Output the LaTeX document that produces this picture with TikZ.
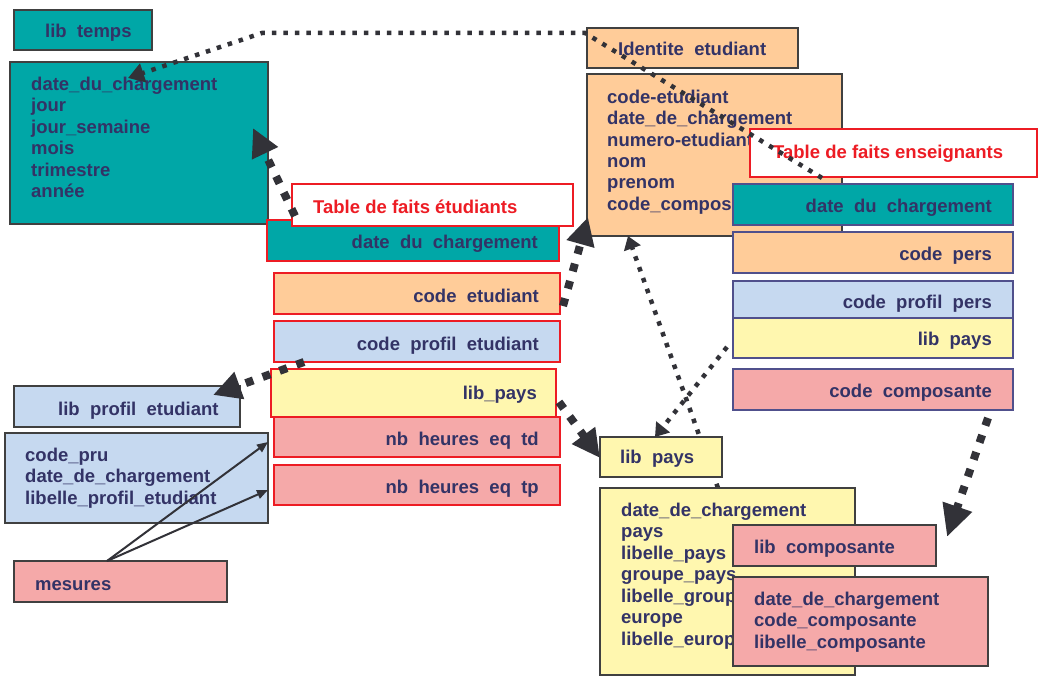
\documentclass[tikz,border=0pt]{standalone}
\usepackage{fontspec}
\setmainfont{Liberation Sans}
\usetikzlibrary{arrows.meta,fit}
\definecolor{tealc}{RGB}{0,167,167}
\definecolor{peach}{RGB}{255,204,153}
\definecolor{lblue}{RGB}{198,217,240}
\definecolor{lyel}{RGB}{255,247,175}
\definecolor{lpink}{RGB}{245,169,169}
\definecolor{txtc}{RGB}{51,51,102}
\definecolor{redc}{RGB}{237,28,36}
\definecolor{dgray}{RGB}{64,64,64}
\definecolor{navyb}{RGB}{80,80,140}
\definecolor{arrc}{RGB}{50,50,56}
\tikzset{
  box/.style={draw=dgray, line width=2pt, inner sep=0pt, outer sep=0pt},
  fbox/.style={draw=redc, line width=2pt, inner sep=0pt, outer sep=0pt},
  ebox/.style={draw=navyb, line width=2pt, inner sep=0pt, outer sep=0pt},
  txt/.style={inner sep=0pt, text=txtc, font=\fontsize{18.5}{21.5}\selectfont\bfseries, align=left},
  rtxt/.style={txt, text=redc},
  dotln/.style={draw=arrc, line width=4.5pt, dash pattern=on 4.5pt off 7pt},
  bigdash/.style={draw=arrc, line width=8pt, dash pattern=on 8pt off 10pt},
  smallhead/.style={-{Triangle[length=13pt,width=17pt]}},
  bighead/.style={-{Triangle[length=28pt,width=27pt]}},
  thinarr/.style={draw=arrc, line width=2pt, -{Triangle[length=11pt,width=9pt]}},
}
\begin{document}
\begin{tikzpicture}[x=1pt,y=-1pt]
\fill[white] (0,0) rectangle (1039,682);
\useasboundingbox (0,0) rectangle (1039,682);

% ---- dimension temps
\node[box, fill=tealc, fit={(14,10)(152,50)}] (libtemps) {};
\node[txt, anchor=base west] (tlibtemps) at (45,38) {lib\ \ temps};
\node[box, fill=tealc, fit={(10,62)(268,224)}] (temps) {};
\node[txt, anchor=base west] (ttemps) at (31,197.5) {date\_du\_chargement\\jour\\jour\_semaine\\mois\\trimestre\\année};

% ---- dimension profil
\node[box, fill=lblue, fit={(14,386)(240,427)}] (libprof) {};
\node[txt, anchor=base west] (tlibprof) at (58,415) {lib\ \ profil\ \ etudiant};
\node[box, fill=lblue, fit={(5,433)(268,523)}] (proftab) {};
\node[txt, anchor=base west] (tproftab) at (25,504) {code\_pru\\date\_de\_chargement\\libelle\_profil\_etudiant};
\node[box, fill=lpink, fit={(14,561)(227,602)}] (mesures) {};
\node[txt, anchor=base west] (tmesures) at (35,590) {mesures};

% ---- table de faits etudiants
\node[fbox, fill=tealc, fit={(267,220)(559,261)}] (fdate) {};
\node[txt, anchor=base east] (tfdate) at (538,248) {date\ \ du\ \ chargement};
\node[fbox, fill=white, fit={(292,184)(573,226)}] (flabel) {};
\node[rtxt, anchor=base west] (tflabel) at (313,213) {Table de faits étudiants};
\node[fbox, fill=peach, fit={(274,273)(560,314)}] (fcode) {};
\node[txt, anchor=base east] (tfcode) at (539,302) {code\ \ etudiant};
\node[fbox, fill=lblue, fit={(274,321)(560,362)}] (fprof) {};
\node[txt, anchor=base east] (tfprof) at (539,350) {code\ \ profil\ \ etudiant};
\node[fbox, fill=lyel, fit={(271,369)(556,417)}] (fpays) {};
\node[txt, anchor=base east] (tfpays) at (537,399) {lib\_pays};
\node[fbox, fill=lpink, fit={(274,417)(560,457)}] (ftd) {};
\node[txt, anchor=base east] (tftd) at (539,445) {nb\ \ heures\ \ eq\ \ td};
\node[fbox, fill=lpink, fit={(274,465)(560,505)}] (ftp) {};
\node[txt, anchor=base east] (tftp) at (539,493) {nb\ \ heures\ \ eq\ \ tp};

% ---- dimension identite
\node[box, fill=peach, fit={(587,28)(798,68)}] (idhead) {};
\node[txt, anchor=base west] (tidhead) at (618,56) {Identite\ \ etudiant};
\node[box, fill=peach, fit={(587,74)(842,236)}] (idtab) {};
\node[txt, anchor=base west] (tidtab) at (607,210.5) {code-etudiant\\date\_de\_chargement\\numero-etudiant\\nom\\prenom\\code\_composante};

% ---- table de faits enseignants
\node[fbox, fill=white, fit={(750,129)(1037,177)}] (elabel) {};
\node[rtxt, anchor=base west] (telabel) at (773,158) {Table de faits enseignants};
\node[ebox, fill=tealc, fit={(733,184)(1013,225)}] (edate) {};
\node[txt, anchor=base east] (tedate) at (992,212) {date\ \ du\ \ chargement};
\node[ebox, fill=peach, fit={(733,232)(1013,273)}] (epers) {};
\node[txt, anchor=base east] (tepers) at (992,260) {code\ \ pers};
\node[ebox, fill=lblue, fit={(733,281)(1013,318)}] (eprof) {};
\node[txt, anchor=base east] (teprof) at (992,308) {code\ \ profil\ \ pers};
\node[ebox, fill=lyel, fit={(733,318)(1013,358)}] (epays) {};
\node[txt, anchor=base east] (tepays) at (992,345) {lib\ \ pays};
\node[ebox, fill=lpink, fit={(733,369)(1013,410)}] (ecomp) {};
\node[txt, anchor=base east] (tecomp) at (992,397) {code\ \ composante};

% ---- connector passing behind lib pays
\coordinate (d0) at (718,488);
\coordinate (d1) at (628,236);
\draw[dotln, smallhead] (d0) -- (d1);

% ---- dimension pays
\node[box, fill=lyel, fit={(600,437)(722,477)}] (gpays) {};
\node[txt, anchor=base west] (tgpays) at (620,463) {lib\ \ pays};
\node[box, fill=lyel, fit={(600,488)(855,675)}] (paystab) {};
\node[txt, anchor=base west] (tpaystab) at (621,645) {date\_de\_chargement\\pays\\libelle\_pays\\groupe\_pays\\libelle\_groupe\\europe\\libelle\_europe};

% ---- dimension composante
\node[box, fill=lpink, fit={(733,525)(936,566)}] (libcomp) {};
\node[txt, anchor=base west] (tlibcomp) at (754,553) {lib\ \ composante};
\node[box, fill=lpink, fit={(733,577)(988,666)}] (comptab) {};
\node[txt, anchor=base west] (tcomptab) at (754,648) {date\_de\_chargement\\code\_composante\\libelle\_composante};

% ---- connectors
\coordinate (a0) at (822,178);
\coordinate (a1) at (585,33);
\coordinate (a2) at (262,33);
\coordinate (a3) at (128,78);
\draw[dotln, -{Triangle[length=16pt,width=19pt]}] (a0) -- (a1) -- (a2) -- (a3);

\coordinate (b0) at (295,216);
\coordinate (b1) at (253,128);
\draw[bigdash, bighead] (b0) -- (b1);

\coordinate (c0) at (563,306);
\coordinate (c1) at (588,217);
\draw[bigdash, bighead] (c0) -- (c1);

\coordinate (e0) at (727,347);
\coordinate (e1) at (655,437);
\draw[dotln, smallhead] (e0) -- (e1);

\coordinate (f0) at (559,402);
\coordinate (f1) at (600,458);
\draw[bigdash, bighead] (f0) -- (f1);

\coordinate (g0) at (988,418);
\coordinate (g1) at (947,537);
\draw[bigdash, -{Triangle[length=32pt,width=29pt]}] (g0) -- (g1);

\coordinate (h0) at (304,362);
\coordinate (h1) at (213,395);
\draw[bigdash, bighead] (h0) -- (h1);

\coordinate (i1) at (268,442);
\coordinate (j1) at (268,490);
\draw[thinarr] ([xshift=-13.5pt]mesures.north) -- (i1);
\draw[thinarr] ([xshift=-13.5pt]mesures.north) -- (j1);
\end{tikzpicture}
\end{document}
